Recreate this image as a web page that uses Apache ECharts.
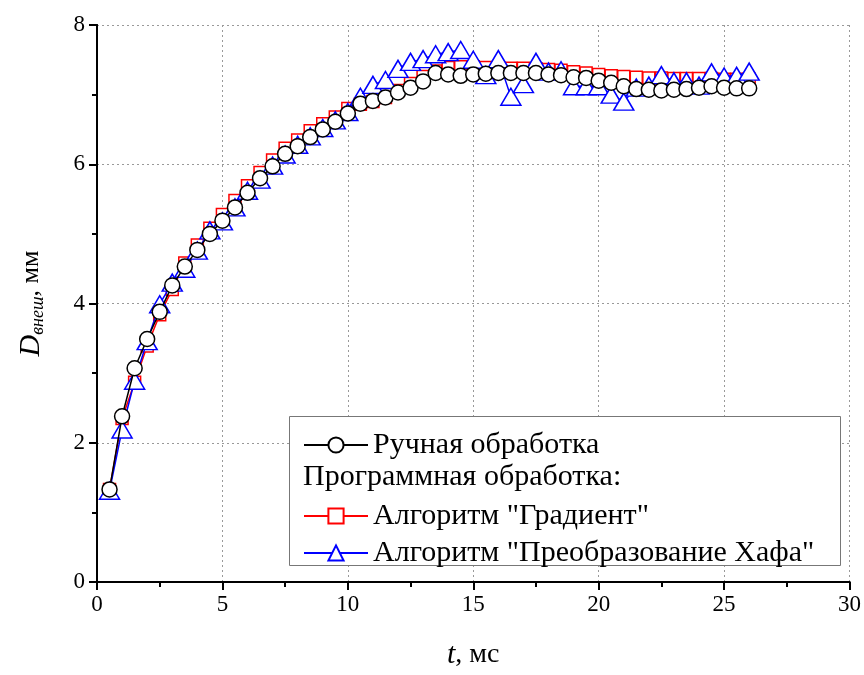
<!DOCTYPE html>
<html>
<head>
<meta charset="utf-8">
<script src="https://cdn.jsdelivr.net/npm/echarts@6/dist/echarts.min.js"></script>
<style>
  html, body { margin: 0; padding: 0; background: #fff; }
  #chart { width: 864px; height: 675px; }
</style>
</head>
<body>
<div id="chart"></div>
<script>
// время, мс
const times = [0.5, 1, 1.5, 2, 2.5, 3, 3.5, 4, 4.5, 5, 5.5, 6, 6.5, 7, 7.5, 8, 8.5, 9, 9.5, 10,
  10.5, 11, 11.5, 12, 12.5, 13, 13.5, 14, 14.5, 15, 15.5, 16, 16.5, 17, 17.5, 18, 18.5, 19, 19.5, 20,
  20.5, 21, 21.5, 22, 22.5, 23, 23.5, 24, 24.5, 25, 25.5, 26]

// ручная обработка
const manual = [1.33, 2.38, 3.07, 3.49, 3.88, 4.26, 4.53, 4.77, 5.0, 5.19, 5.38, 5.59, 5.8, 5.97, 6.15, 6.26, 6.39, 6.5, 6.61, 6.73,
  6.87, 6.91, 6.96, 7.03, 7.1, 7.19, 7.31, 7.29, 7.27, 7.29, 7.3, 7.31, 7.31, 7.31, 7.31, 7.29, 7.28, 7.25, 7.24, 7.2,
  7.17, 7.12, 7.08, 7.07, 7.06, 7.07, 7.08, 7.1, 7.12, 7.1, 7.09, 7.09]

// алгоритм "Градиент"
const gradient = [1.33, 2.35, 2.87, 3.39, 3.84, 4.2, 4.58, 4.84, 5.08, 5.28, 5.48, 5.69, 5.88, 6.06, 6.23, 6.35, 6.48, 6.58, 6.68, 6.8,
  6.86, 6.9, 6.96, 7.06, 7.16, 7.26, 7.34, 7.39, 7.4, 7.4, 7.39, 7.38, 7.38, 7.38, 7.37, 7.36, 7.35, 7.33, 7.31, 7.29,
  7.27, 7.26, 7.25, 7.24, 7.24, 7.23, 7.23, 7.23, 7.23, 7.22, 7.22, 7.22]

// алгоритм "Преобразование Хафа"
const hough = [1.31, 2.19, 2.89, 3.46, 3.99, 4.3, 4.5, 4.76, 5.05, 5.18, 5.38, 5.62, 5.78, 5.98, 6.14, 6.28, 6.4, 6.52, 6.63, 6.75,
  6.97, 7.14, 7.21, 7.37, 7.47, 7.51, 7.58, 7.61, 7.64, 7.5, 7.28, 7.51, 6.97, 7.15, 7.47, 7.33, 7.35, 7.12, 7.12, 7.12,
  7.0, 6.9, 7.1, 7.13, 7.28, 7.19, 7.19, 7.13, 7.32, 7.26, 7.27, 7.33]

const names = ['Ручная обработка', 'Алгоритм "Градиент"', 'Алгоритм "Преобразование Хафа"']
const FONT = 'Liberation Serif'

const pairs = vals => times.map((t, i) => [t, vals[i]])

const chart = echarts.init(document.getElementById('chart'))

const axisLine = { show: true, lineStyle: { color: '#000', width: 2 } }
const splitLine = { show: true, lineStyle: { color: '#999', width: 1, type: [2, 3] } }
const legendText = { fontFamily: FONT, fontSize: 30, color: '#000', lineHeight: 24 }

const option = {
  animation: false,
  backgroundColor: '#fff',
  grid: { left: 97, right: 14, top: 25, bottom: 92 },
  xAxis: [
    {
      type: 'value',
      min: 0,
      max: 30,
      interval: 5,
      axisLine: axisLine,
      axisTick: { inside: false, length: 8, lineStyle: { color: '#000', width: 2 } },
      minorTick: { show: true, splitNumber: 2, length: 5, lineStyle: { color: '#000', width: 2 } },
      splitLine: splitLine,
      axisLabel: { fontFamily: FONT, fontSize: 23, color: '#000', margin: 11 },
      name: '{t|t}{n|, мс}',
      nameLocation: 'middle',
      nameGap: 58,
      nameTextStyle: {
        rich: {
          t: { fontFamily: FONT, fontSize: 30, fontStyle: 'italic', color: '#000' },
          n: { fontFamily: FONT, fontSize: 28, color: '#000' }
        }
      }
    },
    {
      type: 'value',
      position: 'top',
      min: 0,
      max: 30,
      axisLine: axisLine,
      axisTick: { show: false },
      axisLabel: { show: false },
      splitLine: { show: false }
    }
  ],
  yAxis: [
    {
      type: 'value',
      min: 0,
      max: 8,
      interval: 2,
      axisLine: axisLine,
      axisTick: { inside: false, length: 8, lineStyle: { color: '#000', width: 2 } },
      minorTick: { show: true, splitNumber: 2, length: 5, lineStyle: { color: '#000', width: 2 } },
      splitLine: splitLine,
      axisLabel: { fontFamily: FONT, fontSize: 23, color: '#000', margin: 12 },
      name: '{d|D}{s|внеш}{n|, мм}',
      nameLocation: 'middle',
      nameRotate: 90,
      nameGap: 50,
      nameTextStyle: {
        rich: {
          d: { fontFamily: FONT, fontSize: 30, fontStyle: 'italic', color: '#000', lineHeight: 32 },
          s: { fontFamily: FONT, fontSize: 18, fontStyle: 'italic', color: '#000', verticalAlign: 'bottom', lineHeight: 14 },
          n: { fontFamily: FONT, fontSize: 26, color: '#000', lineHeight: 32 }
        }
      }
    },
    {
      type: 'value',
      position: 'right',
      min: 0,
      max: 8,
      axisLine: axisLine,
      axisTick: { show: false },
      axisLabel: { show: false },
      splitLine: { show: false }
    }
  ],
  legend: [
    {
      data: [names[0]],
      orient: 'vertical',
      left: 303,
      top: 430,
      padding: 0,
      z: 10,
      itemWidth: 64,
      itemHeight: 19,
      itemGap: 7,
      selectedMode: false,
      textStyle: legendText
    },
    {
      data: [names[1], names[2]],
      orient: 'vertical',
      left: 303,
      top: 501,
      padding: 0,
      z: 10,
      itemWidth: 64,
      itemHeight: 19,
      itemGap: 7,
      selectedMode: false,
      textStyle: legendText
    }
  ],
  graphic: [
    {
      type: 'rect',
      z: 3,
      shape: { x: 289.5, y: 416.5, width: 551, height: 149 },
      style: { fill: '#fff', stroke: '#777', lineWidth: 1 }
    },
    {
      type: 'text',
      z: 11,
      left: 303,
      top: 462,
      style: { text: 'Программная обработка:', fontFamily: FONT, fontSize: 30, fill: '#000' }
    }
  ],
  series: [
    {
      name: names[1],
      type: 'line',
      data: pairs(gradient),
      symbol: 'rect',
      symbolSize: 12,
      color: '#ff0000',
      lineStyle: { color: '#ff0000', width: 1.5 },
      itemStyle: { color: '#fff', borderColor: '#ff0000', borderWidth: 1.5 },
      z: 2
    },
    {
      name: names[2],
      type: 'line',
      data: pairs(hough),
      symbol: 'triangle',
      symbolSize: [20, 17],
      color: '#0000ff',
      lineStyle: { color: '#0000ff', width: 1.5 },
      itemStyle: { color: '#fff', borderColor: '#0000ff', borderWidth: 1.5 },
      z: 3
    },
    {
      name: names[0],
      type: 'line',
      data: pairs(manual),
      symbol: 'circle',
      symbolSize: 15,
      color: '#000',
      lineStyle: { color: '#000', width: 1.5 },
      itemStyle: { color: '#fff', borderColor: '#000', borderWidth: 1.5 },
      z: 4
    }
  ]
}

chart.setOption(option)
</script>
</body>
</html>
